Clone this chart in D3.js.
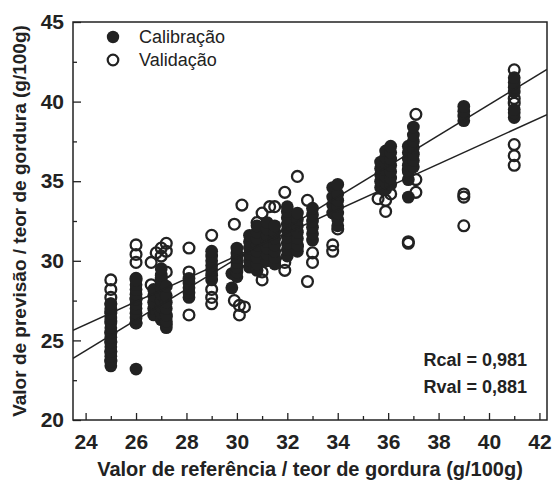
<!DOCTYPE html>
<html>
<head>
<meta charset="utf-8">
<script src="https://cdn.jsdelivr.net/npm/d3@7"></script>
<style>
  body { margin: 0; background: #fff; }
  svg { display: block; font-family: "Liberation Sans", Arial, sans-serif; }
</style>
</head>
<body>
<svg id="chart" width="553" height="482"></svg>
<script>
// reference value -> predicted values, per series
var calibracao = [
  [25,   [23.4, 23.7, 24.0, 24.3, 24.6, 24.9, 25.2, 25.5, 25.8, 26.1, 26.4, 26.7, 27.0, 27.3]],
  [26,   [23.2, 26.1, 26.4, 26.7, 27.0, 27.3, 27.6, 27.9, 28.2, 28.5, 28.8]],
  [26.7, [26.6, 27.0, 27.4, 27.8, 28.2]],
  [27.0, [26.3, 26.7, 27.1, 27.5, 27.9, 28.3, 28.7, 29.1, 29.5]],
  [27.2, [25.8, 26.2, 26.6, 27.0, 27.4, 27.8, 28.4]],
  [28.1, [27.7, 28.0, 28.3, 28.6, 28.9]],
  [29,   [28.8, 29.1, 29.4, 29.7, 30.0, 30.3, 30.6]],
  [29.8, [28.3, 29.2]],
  [30,   [29.0, 29.3, 29.6, 29.9, 30.2, 30.5, 30.8]],
  [30.5, [29.6, 30.0, 30.4, 30.8, 31.2, 31.6]],
  [30.8, [29.4, 29.8, 30.2, 30.6, 31.0, 31.4, 31.8, 32.2]],
  [31.2, [30.0, 30.4, 30.8, 31.2, 31.6, 32.0, 32.4]],
  [31.5, [29.8, 30.2, 30.6, 31.0, 31.4, 31.8, 32.2]],
  [32,   [30.3, 30.7, 31.1, 31.5, 31.9, 32.3, 32.7, 33.1, 33.4]],
  [32.4, [30.6, 31.0, 31.4, 31.8, 32.2, 32.6, 33.0]],
  [33,   [31.3, 31.7, 32.1, 32.5, 32.9, 33.3]],
  [33.8, [33.0, 33.5, 34.0, 34.6]],
  [34,   [32.2, 32.6, 33.0, 33.4, 33.8, 34.2, 34.8]],
  [35.7, [34.6, 35.0, 35.4, 35.8, 36.2]],
  [35.9, [34.5, 34.9, 35.3, 35.7, 36.1, 36.5, 36.9]],
  [36.1, [34.8, 35.2, 35.6, 36.0, 36.4, 36.8, 37.2]],
  [36.8, [34.0, 35.1, 35.6, 36.0, 36.4, 36.8, 37.2]],
  [37,   [35.9, 36.3, 36.7, 37.1, 37.5, 37.9, 38.4]],
  [39,   [38.8, 39.1, 39.4, 39.7]],
  [41,   [39.0, 39.3, 39.5, 40.6, 40.9, 41.2, 41.5]]
];

var validacao = [
  [25,   [28.8, 28.2, 27.7, 27.3, 26.8, 26.2, 25.5, 24.9, 24.3, 23.7]],
  [26,   [31.0, 30.4, 29.9, 28.9, 27.6, 26.1]],
  [26.6, [29.9, 28.5]],
  [26.8, [30.5, 27.1]],
  [27.0, [30.8, 30.3, 28.9]],
  [27.2, [31.1, 30.6, 29.3, 26.5, 26.0]],
  [28.1, [30.8, 29.3, 26.6]],
  [29,   [31.6, 28.2, 27.7, 27.3]],
  [29.9, [32.3, 27.5]],
  [30.1, [27.2, 26.6]],
  [30.2, [33.5]],
  [30.3, [27.1, 30.0]],
  [30.8, [32.4]],
  [31.0, [33.0, 29.3, 28.8]],
  [31.3, [33.4]],
  [31.5, [33.4, 30.0]],
  [31.9, [34.3, 29.9, 29.4]],
  [32.4, [35.3, 30.9]],
  [32.8, [33.8, 28.7]],
  [33.0, [30.5, 29.9]],
  [33.8, [31.0, 30.6]],
  [34,   [32.0]],
  [35.6, [33.9]],
  [35.9, [33.8, 33.1]],
  [36.1, [34.2]],
  [36.8, [35.7, 31.1, 31.2]],
  [37.1, [39.2, 35.1, 34.3]],
  [39,   [34.2, 34.0, 32.2]],
  [41,   [42.0, 40.2, 39.9, 37.3, 36.6, 36.0]]
];

// fitted lines: y = slope * x + intercept
var retaCal = [0.965, 1.2];
var retaVal = [0.72, 8.72];

var xTicks = [24, 26, 28, 30, 32, 34, 36, 38, 40, 42];
var yTicks = [20, 25, 30, 35, 40, 45];
var rLabels = ['Rcal = 0,981', 'Rval = 0,881'];
var legendLabels = ['Calibração', 'Validação'];

(function(d3) {

  function flatten(groups) {
    var out = [];
    groups.forEach(function(g) {
      g[1].forEach(function(v) { out.push({ ref: g[0], prev: v }); });
    });
    return out;
  }

  var svg = d3.select('#chart'),
      pl = 73, pr = 547, pt = 22, pb = 420,
      x = d3.scaleLinear().domain([23.5, 42.3]).range([pl, pr]),
      y = d3.scaleLinear().domain([20, 45]).range([pb, pt]),
      ink = '#222';

  svg.append('defs').append('clipPath').attr('id', 'plot')
    .append('rect').attr('x', pl).attr('y', pt)
    .attr('width', pr - pl).attr('height', pb - pt);

  // minor ticks
  svg.append('g').attr('transform', 'translate(0,' + pb + ')')
    .call(d3.axisBottom(x).tickValues(d3.range(25, 42, 2)).tickSize(-4).tickFormat(''))
    .call(function(g) { g.select('.domain').remove(); g.selectAll('line').attr('stroke', ink).attr('stroke-width', 1.3); });
  svg.append('g').attr('transform', 'translate(' + pl + ',0)')
    .call(d3.axisLeft(y).tickValues(d3.range(22.5, 45, 5)).tickSize(-4).tickFormat(''))
    .call(function(g) { g.select('.domain').remove(); g.selectAll('line').attr('stroke', ink).attr('stroke-width', 1.3); });

  // major ticks + labels
  var gx = svg.append('g').attr('transform', 'translate(0,' + pb + ')')
    .call(d3.axisBottom(x).tickValues(xTicks).tickSize(-7).tickPadding(14));
  var gy = svg.append('g').attr('transform', 'translate(' + pl + ',0)')
    .call(d3.axisLeft(y).tickValues(yTicks).tickSize(-8).tickPadding(9));
  [gx, gy].forEach(function(g) {
    g.select('.domain').remove();
    g.selectAll('line').attr('stroke', ink).attr('stroke-width', 1.3);
    g.selectAll('text').attr('font-size', 21).attr('font-weight', 'bold')
      .attr('font-family', '"Liberation Sans", Arial, sans-serif').attr('fill', ink);
  });

  var pts = svg.append('g').attr('clip-path', 'url(#plot)');

  pts.selectAll('circle.val')
      .data(flatten(validacao))
    .enter().append('circle')
      .attr('class', 'val')
      .attr('cx', function(d) { return x(d.ref); })
      .attr('cy', function(d) { return y(d.prev); })
      .attr('r', 5.4)
      .attr('fill', 'none')
      .attr('stroke', ink)
      .attr('stroke-width', 2.3);

  pts.selectAll('circle.cal')
      .data(flatten(calibracao))
    .enter().append('circle')
      .attr('class', 'cal')
      .attr('cx', function(d) { return x(d.ref); })
      .attr('cy', function(d) { return y(d.prev); })
      .attr('r', 6.4)
      .attr('fill', ink);

  [retaCal, retaVal].forEach(function(r) {
    var xs = x.domain();
    pts.append('line')
      .attr('x1', x(xs[0])).attr('y1', y(r[0] * xs[0] + r[1]))
      .attr('x2', x(xs[1])).attr('y2', y(r[0] * xs[1] + r[1]))
      .attr('stroke', ink).attr('stroke-width', 1.5);
  });

  // frame
  svg.append('rect')
    .attr('x', pl).attr('y', pt)
    .attr('width', pr - pl).attr('height', pb - pt)
    .attr('fill', 'none').attr('stroke', ink).attr('stroke-width', 1.5);

  // legend
  var leg = svg.append('g');
  leg.append('circle').attr('cx', 113).attr('cy', 37).attr('r', 6.2).attr('fill', ink);
  leg.append('circle').attr('cx', 113).attr('cy', 60).attr('r', 5.3)
    .attr('fill', 'none').attr('stroke', ink).attr('stroke-width', 2.2);
  leg.selectAll('text')
      .data(legendLabels)
    .enter().append('text')
      .attr('x', 139)
      .attr('y', function(d, i) { return 43 + i * 23; })
      .attr('font-size', 18)
      .attr('fill', ink)
      .text(function(d) { return d; });

  // correlation
  svg.selectAll('text.r')
      .data(rLabels)
    .enter().append('text')
      .attr('class', 'r')
      .attr('x', 527)
      .attr('y', function(d, i) { return 366 + i * 27; })
      .attr('text-anchor', 'end')
      .attr('font-size', 18)
      .attr('font-weight', 'bold')
      .attr('fill', ink)
      .text(function(d) { return d; });

  // axis titles
  svg.append('text')
    .attr('x', (pl + pr) / 2).attr('y', 476)
    .attr('text-anchor', 'middle')
    .attr('font-size', 20).attr('font-weight', 'bold').attr('fill', ink)
    .text('Valor de referência / teor de gordura (g/100g)');

  svg.append('text')
    .attr('transform', 'translate(26,' + ((pt + pb) / 2) + ') rotate(-90)')
    .attr('text-anchor', 'middle')
    .attr('font-size', 19).attr('font-weight', 'bold').attr('fill', ink)
    .text('Valor de previsão / teor de gordura (g/100g)');

})(d3);
</script>
</body>
</html>
